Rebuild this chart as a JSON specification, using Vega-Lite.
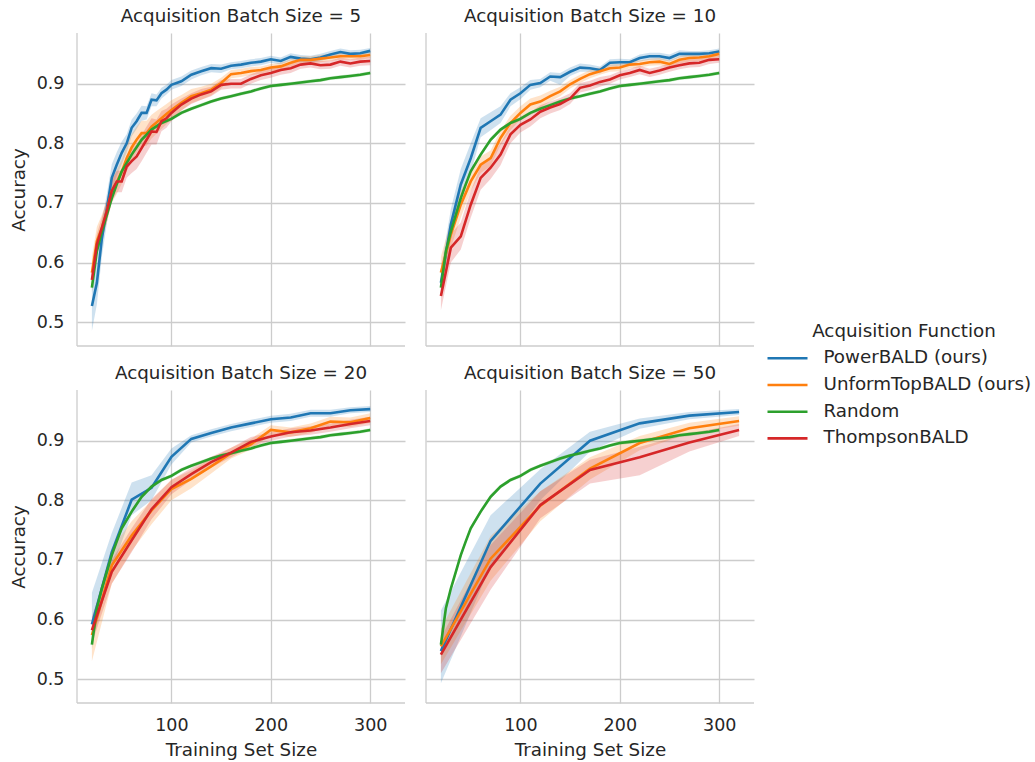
{
"$schema": "https://vega.github.io/schema/vega-lite/v6.json",
"background": "white",
"padding": {"left": 9, "top": 7, "right": 3, "bottom": 5},
"data": {"values": [
{"f":5,"m":"PowerBALD (ours)","x":20,"y":0.527,"lo":0.485,"hi":0.57},
{"f":5,"m":"PowerBALD (ours)","x":25,"y":0.566,"lo":0.53,"hi":0.6},
{"f":5,"m":"PowerBALD (ours)","x":30,"y":0.64,"lo":0.61,"hi":0.67},
{"f":5,"m":"PowerBALD (ours)","x":35,"y":0.69,"lo":0.665,"hi":0.715},
{"f":5,"m":"PowerBALD (ours)","x":40,"y":0.742,"lo":0.72,"hi":0.765},
{"f":5,"m":"PowerBALD (ours)","x":45,"y":0.764,"lo":0.745,"hi":0.785},
{"f":5,"m":"PowerBALD (ours)","x":50,"y":0.784,"lo":0.765,"hi":0.803},
{"f":5,"m":"PowerBALD (ours)","x":55,"y":0.8,"lo":0.785,"hi":0.815},
{"f":5,"m":"PowerBALD (ours)","x":60,"y":0.826,"lo":0.812,"hi":0.84},
{"f":5,"m":"PowerBALD (ours)","x":65,"y":0.837,"lo":0.824,"hi":0.85},
{"f":5,"m":"PowerBALD (ours)","x":70,"y":0.851,"lo":0.838,"hi":0.863},
{"f":5,"m":"PowerBALD (ours)","x":75,"y":0.851,"lo":0.84,"hi":0.862},
{"f":5,"m":"PowerBALD (ours)","x":80,"y":0.873,"lo":0.862,"hi":0.884},
{"f":5,"m":"PowerBALD (ours)","x":85,"y":0.872,"lo":0.862,"hi":0.882},
{"f":5,"m":"PowerBALD (ours)","x":90,"y":0.884,"lo":0.875,"hi":0.893},
{"f":5,"m":"PowerBALD (ours)","x":95,"y":0.89,"lo":0.882,"hi":0.898},
{"f":5,"m":"PowerBALD (ours)","x":100,"y":0.898,"lo":0.89,"hi":0.906},
{"f":5,"m":"PowerBALD (ours)","x":110,"y":0.904,"lo":0.896,"hi":0.912},
{"f":5,"m":"PowerBALD (ours)","x":120,"y":0.915,"lo":0.907,"hi":0.922},
{"f":5,"m":"PowerBALD (ours)","x":130,"y":0.921,"lo":0.914,"hi":0.928},
{"f":5,"m":"PowerBALD (ours)","x":140,"y":0.926,"lo":0.919,"hi":0.933},
{"f":5,"m":"PowerBALD (ours)","x":150,"y":0.925,"lo":0.918,"hi":0.932},
{"f":5,"m":"PowerBALD (ours)","x":160,"y":0.93,"lo":0.924,"hi":0.936},
{"f":5,"m":"PowerBALD (ours)","x":170,"y":0.932,"lo":0.926,"hi":0.938},
{"f":5,"m":"PowerBALD (ours)","x":180,"y":0.935,"lo":0.929,"hi":0.941},
{"f":5,"m":"PowerBALD (ours)","x":190,"y":0.937,"lo":0.931,"hi":0.943},
{"f":5,"m":"PowerBALD (ours)","x":200,"y":0.941,"lo":0.935,"hi":0.947},
{"f":5,"m":"PowerBALD (ours)","x":210,"y":0.938,"lo":0.932,"hi":0.944},
{"f":5,"m":"PowerBALD (ours)","x":220,"y":0.945,"lo":0.939,"hi":0.951},
{"f":5,"m":"PowerBALD (ours)","x":230,"y":0.942,"lo":0.936,"hi":0.948},
{"f":5,"m":"PowerBALD (ours)","x":240,"y":0.941,"lo":0.935,"hi":0.947},
{"f":5,"m":"PowerBALD (ours)","x":250,"y":0.944,"lo":0.938,"hi":0.95},
{"f":5,"m":"PowerBALD (ours)","x":260,"y":0.949,"lo":0.943,"hi":0.955},
{"f":5,"m":"PowerBALD (ours)","x":270,"y":0.953,"lo":0.947,"hi":0.959},
{"f":5,"m":"PowerBALD (ours)","x":280,"y":0.95,"lo":0.944,"hi":0.956},
{"f":5,"m":"PowerBALD (ours)","x":290,"y":0.951,"lo":0.945,"hi":0.957},
{"f":5,"m":"PowerBALD (ours)","x":300,"y":0.955,"lo":0.95,"hi":0.96},
{"f":5,"m":"UnformTopBALD (ours)","x":20,"y":0.583,"lo":0.56,"hi":0.61},
{"f":5,"m":"UnformTopBALD (ours)","x":25,"y":0.636,"lo":0.615,"hi":0.66},
{"f":5,"m":"UnformTopBALD (ours)","x":30,"y":0.658,"lo":0.638,"hi":0.68},
{"f":5,"m":"UnformTopBALD (ours)","x":35,"y":0.686,"lo":0.667,"hi":0.705},
{"f":5,"m":"UnformTopBALD (ours)","x":40,"y":0.72,"lo":0.7,"hi":0.74},
{"f":5,"m":"UnformTopBALD (ours)","x":45,"y":0.735,"lo":0.715,"hi":0.755},
{"f":5,"m":"UnformTopBALD (ours)","x":50,"y":0.752,"lo":0.732,"hi":0.772},
{"f":5,"m":"UnformTopBALD (ours)","x":55,"y":0.775,"lo":0.753,"hi":0.797},
{"f":5,"m":"UnformTopBALD (ours)","x":60,"y":0.793,"lo":0.77,"hi":0.815},
{"f":5,"m":"UnformTopBALD (ours)","x":65,"y":0.806,"lo":0.784,"hi":0.828},
{"f":5,"m":"UnformTopBALD (ours)","x":70,"y":0.817,"lo":0.795,"hi":0.838},
{"f":5,"m":"UnformTopBALD (ours)","x":75,"y":0.817,"lo":0.796,"hi":0.838},
{"f":5,"m":"UnformTopBALD (ours)","x":80,"y":0.828,"lo":0.808,"hi":0.848},
{"f":5,"m":"UnformTopBALD (ours)","x":85,"y":0.835,"lo":0.816,"hi":0.854},
{"f":5,"m":"UnformTopBALD (ours)","x":90,"y":0.842,"lo":0.824,"hi":0.86},
{"f":5,"m":"UnformTopBALD (ours)","x":95,"y":0.849,"lo":0.832,"hi":0.866},
{"f":5,"m":"UnformTopBALD (ours)","x":100,"y":0.856,"lo":0.84,"hi":0.872},
{"f":5,"m":"UnformTopBALD (ours)","x":110,"y":0.868,"lo":0.855,"hi":0.881},
{"f":5,"m":"UnformTopBALD (ours)","x":120,"y":0.879,"lo":0.867,"hi":0.891},
{"f":5,"m":"UnformTopBALD (ours)","x":130,"y":0.884,"lo":0.873,"hi":0.895},
{"f":5,"m":"UnformTopBALD (ours)","x":140,"y":0.89,"lo":0.88,"hi":0.9},
{"f":5,"m":"UnformTopBALD (ours)","x":150,"y":0.901,"lo":0.892,"hi":0.91},
{"f":5,"m":"UnformTopBALD (ours)","x":160,"y":0.916,"lo":0.909,"hi":0.923},
{"f":5,"m":"UnformTopBALD (ours)","x":170,"y":0.918,"lo":0.911,"hi":0.925},
{"f":5,"m":"UnformTopBALD (ours)","x":180,"y":0.921,"lo":0.914,"hi":0.928},
{"f":5,"m":"UnformTopBALD (ours)","x":190,"y":0.923,"lo":0.917,"hi":0.929},
{"f":5,"m":"UnformTopBALD (ours)","x":200,"y":0.927,"lo":0.921,"hi":0.933},
{"f":5,"m":"UnformTopBALD (ours)","x":210,"y":0.929,"lo":0.923,"hi":0.935},
{"f":5,"m":"UnformTopBALD (ours)","x":220,"y":0.935,"lo":0.929,"hi":0.941},
{"f":5,"m":"UnformTopBALD (ours)","x":230,"y":0.94,"lo":0.934,"hi":0.946},
{"f":5,"m":"UnformTopBALD (ours)","x":240,"y":0.94,"lo":0.934,"hi":0.946},
{"f":5,"m":"UnformTopBALD (ours)","x":250,"y":0.942,"lo":0.936,"hi":0.948},
{"f":5,"m":"UnformTopBALD (ours)","x":260,"y":0.944,"lo":0.938,"hi":0.95},
{"f":5,"m":"UnformTopBALD (ours)","x":270,"y":0.946,"lo":0.94,"hi":0.952},
{"f":5,"m":"UnformTopBALD (ours)","x":280,"y":0.946,"lo":0.94,"hi":0.952},
{"f":5,"m":"UnformTopBALD (ours)","x":290,"y":0.946,"lo":0.94,"hi":0.952},
{"f":5,"m":"UnformTopBALD (ours)","x":300,"y":0.948,"lo":0.943,"hi":0.953},
{"f":5,"m":"Random","x":20,"y":0.558,"lo":0.55,"hi":0.566},
{"f":5,"m":"Random","x":25,"y":0.619,"lo":0.613,"hi":0.625},
{"f":5,"m":"Random","x":30,"y":0.652,"lo":0.647,"hi":0.657},
{"f":5,"m":"Random","x":35,"y":0.68,"lo":0.675,"hi":0.685},
{"f":5,"m":"Random","x":40,"y":0.708,"lo":0.703,"hi":0.713},
{"f":5,"m":"Random","x":45,"y":0.731,"lo":0.727,"hi":0.735},
{"f":5,"m":"Random","x":50,"y":0.753,"lo":0.749,"hi":0.757},
{"f":5,"m":"Random","x":60,"y":0.781,"lo":0.777,"hi":0.785},
{"f":5,"m":"Random","x":70,"y":0.806,"lo":0.802,"hi":0.81},
{"f":5,"m":"Random","x":80,"y":0.823,"lo":0.82,"hi":0.826},
{"f":5,"m":"Random","x":90,"y":0.834,"lo":0.831,"hi":0.837},
{"f":5,"m":"Random","x":100,"y":0.841,"lo":0.838,"hi":0.844},
{"f":5,"m":"Random","x":110,"y":0.851,"lo":0.848,"hi":0.854},
{"f":5,"m":"Random","x":120,"y":0.858,"lo":0.855,"hi":0.861},
{"f":5,"m":"Random","x":130,"y":0.864,"lo":0.861,"hi":0.867},
{"f":5,"m":"Random","x":140,"y":0.87,"lo":0.867,"hi":0.873},
{"f":5,"m":"Random","x":150,"y":0.875,"lo":0.872,"hi":0.878},
{"f":5,"m":"Random","x":160,"y":0.879,"lo":0.876,"hi":0.882},
{"f":5,"m":"Random","x":170,"y":0.883,"lo":0.88,"hi":0.886},
{"f":5,"m":"Random","x":180,"y":0.887,"lo":0.884,"hi":0.89},
{"f":5,"m":"Random","x":190,"y":0.892,"lo":0.889,"hi":0.895},
{"f":5,"m":"Random","x":200,"y":0.896,"lo":0.893,"hi":0.899},
{"f":5,"m":"Random","x":210,"y":0.898,"lo":0.895,"hi":0.901},
{"f":5,"m":"Random","x":220,"y":0.9,"lo":0.897,"hi":0.903},
{"f":5,"m":"Random","x":230,"y":0.902,"lo":0.899,"hi":0.905},
{"f":5,"m":"Random","x":240,"y":0.904,"lo":0.901,"hi":0.907},
{"f":5,"m":"Random","x":250,"y":0.906,"lo":0.903,"hi":0.909},
{"f":5,"m":"Random","x":260,"y":0.909,"lo":0.906,"hi":0.912},
{"f":5,"m":"Random","x":270,"y":0.911,"lo":0.908,"hi":0.914},
{"f":5,"m":"Random","x":280,"y":0.913,"lo":0.91,"hi":0.916},
{"f":5,"m":"Random","x":290,"y":0.915,"lo":0.912,"hi":0.918},
{"f":5,"m":"Random","x":300,"y":0.918,"lo":0.915,"hi":0.921},
{"f":5,"m":"ThompsonBALD","x":20,"y":0.571,"lo":0.555,"hi":0.59},
{"f":5,"m":"ThompsonBALD","x":25,"y":0.63,"lo":0.612,"hi":0.648},
{"f":5,"m":"ThompsonBALD","x":30,"y":0.658,"lo":0.64,"hi":0.676},
{"f":5,"m":"ThompsonBALD","x":35,"y":0.686,"lo":0.668,"hi":0.704},
{"f":5,"m":"ThompsonBALD","x":40,"y":0.72,"lo":0.702,"hi":0.738},
{"f":5,"m":"ThompsonBALD","x":45,"y":0.736,"lo":0.718,"hi":0.754},
{"f":5,"m":"ThompsonBALD","x":50,"y":0.736,"lo":0.718,"hi":0.754},
{"f":5,"m":"ThompsonBALD","x":55,"y":0.761,"lo":0.742,"hi":0.78},
{"f":5,"m":"ThompsonBALD","x":60,"y":0.77,"lo":0.75,"hi":0.79},
{"f":5,"m":"ThompsonBALD","x":65,"y":0.778,"lo":0.757,"hi":0.799},
{"f":5,"m":"ThompsonBALD","x":70,"y":0.792,"lo":0.77,"hi":0.814},
{"f":5,"m":"ThompsonBALD","x":75,"y":0.806,"lo":0.784,"hi":0.828},
{"f":5,"m":"ThompsonBALD","x":80,"y":0.82,"lo":0.798,"hi":0.842},
{"f":5,"m":"ThompsonBALD","x":85,"y":0.819,"lo":0.798,"hi":0.84},
{"f":5,"m":"ThompsonBALD","x":90,"y":0.837,"lo":0.82,"hi":0.854},
{"f":5,"m":"ThompsonBALD","x":95,"y":0.842,"lo":0.826,"hi":0.858},
{"f":5,"m":"ThompsonBALD","x":100,"y":0.851,"lo":0.837,"hi":0.865},
{"f":5,"m":"ThompsonBALD","x":110,"y":0.865,"lo":0.855,"hi":0.875},
{"f":5,"m":"ThompsonBALD","x":120,"y":0.875,"lo":0.866,"hi":0.884},
{"f":5,"m":"ThompsonBALD","x":130,"y":0.882,"lo":0.873,"hi":0.891},
{"f":5,"m":"ThompsonBALD","x":140,"y":0.887,"lo":0.879,"hi":0.895},
{"f":5,"m":"ThompsonBALD","x":150,"y":0.898,"lo":0.89,"hi":0.906},
{"f":5,"m":"ThompsonBALD","x":160,"y":0.9,"lo":0.892,"hi":0.908},
{"f":5,"m":"ThompsonBALD","x":170,"y":0.9,"lo":0.892,"hi":0.908},
{"f":5,"m":"ThompsonBALD","x":180,"y":0.908,"lo":0.9,"hi":0.916},
{"f":5,"m":"ThompsonBALD","x":190,"y":0.914,"lo":0.906,"hi":0.922},
{"f":5,"m":"ThompsonBALD","x":200,"y":0.918,"lo":0.91,"hi":0.926},
{"f":5,"m":"ThompsonBALD","x":210,"y":0.923,"lo":0.915,"hi":0.931},
{"f":5,"m":"ThompsonBALD","x":220,"y":0.926,"lo":0.918,"hi":0.934},
{"f":5,"m":"ThompsonBALD","x":230,"y":0.932,"lo":0.925,"hi":0.939},
{"f":5,"m":"ThompsonBALD","x":240,"y":0.934,"lo":0.927,"hi":0.941},
{"f":5,"m":"ThompsonBALD","x":250,"y":0.931,"lo":0.924,"hi":0.938},
{"f":5,"m":"ThompsonBALD","x":260,"y":0.932,"lo":0.925,"hi":0.939},
{"f":5,"m":"ThompsonBALD","x":270,"y":0.937,"lo":0.93,"hi":0.944},
{"f":5,"m":"ThompsonBALD","x":280,"y":0.934,"lo":0.927,"hi":0.941},
{"f":5,"m":"ThompsonBALD","x":290,"y":0.937,"lo":0.93,"hi":0.944},
{"f":5,"m":"ThompsonBALD","x":300,"y":0.938,"lo":0.931,"hi":0.945},
{"f":10,"m":"PowerBALD (ours)","x":20,"y":0.566,"lo":0.545,"hi":0.59},
{"f":10,"m":"PowerBALD (ours)","x":30,"y":0.664,"lo":0.64,"hi":0.69},
{"f":10,"m":"PowerBALD (ours)","x":40,"y":0.731,"lo":0.705,"hi":0.757},
{"f":10,"m":"PowerBALD (ours)","x":50,"y":0.775,"lo":0.75,"hi":0.8},
{"f":10,"m":"PowerBALD (ours)","x":60,"y":0.826,"lo":0.81,"hi":0.842},
{"f":10,"m":"PowerBALD (ours)","x":70,"y":0.837,"lo":0.822,"hi":0.852},
{"f":10,"m":"PowerBALD (ours)","x":80,"y":0.848,"lo":0.834,"hi":0.862},
{"f":10,"m":"PowerBALD (ours)","x":90,"y":0.873,"lo":0.862,"hi":0.884},
{"f":10,"m":"PowerBALD (ours)","x":100,"y":0.884,"lo":0.874,"hi":0.894},
{"f":10,"m":"PowerBALD (ours)","x":110,"y":0.898,"lo":0.89,"hi":0.906},
{"f":10,"m":"PowerBALD (ours)","x":120,"y":0.901,"lo":0.894,"hi":0.908},
{"f":10,"m":"PowerBALD (ours)","x":130,"y":0.912,"lo":0.905,"hi":0.919},
{"f":10,"m":"PowerBALD (ours)","x":140,"y":0.911,"lo":0.898,"hi":0.918},
{"f":10,"m":"PowerBALD (ours)","x":150,"y":0.92,"lo":0.913,"hi":0.927},
{"f":10,"m":"PowerBALD (ours)","x":160,"y":0.927,"lo":0.92,"hi":0.934},
{"f":10,"m":"PowerBALD (ours)","x":170,"y":0.926,"lo":0.92,"hi":0.932},
{"f":10,"m":"PowerBALD (ours)","x":180,"y":0.923,"lo":0.917,"hi":0.929},
{"f":10,"m":"PowerBALD (ours)","x":190,"y":0.935,"lo":0.929,"hi":0.941},
{"f":10,"m":"PowerBALD (ours)","x":200,"y":0.936,"lo":0.93,"hi":0.942},
{"f":10,"m":"PowerBALD (ours)","x":210,"y":0.936,"lo":0.931,"hi":0.941},
{"f":10,"m":"PowerBALD (ours)","x":220,"y":0.943,"lo":0.937,"hi":0.949},
{"f":10,"m":"PowerBALD (ours)","x":230,"y":0.946,"lo":0.94,"hi":0.952},
{"f":10,"m":"PowerBALD (ours)","x":240,"y":0.946,"lo":0.94,"hi":0.952},
{"f":10,"m":"PowerBALD (ours)","x":250,"y":0.943,"lo":0.937,"hi":0.949},
{"f":10,"m":"PowerBALD (ours)","x":260,"y":0.95,"lo":0.944,"hi":0.956},
{"f":10,"m":"PowerBALD (ours)","x":270,"y":0.95,"lo":0.945,"hi":0.955},
{"f":10,"m":"PowerBALD (ours)","x":280,"y":0.95,"lo":0.945,"hi":0.955},
{"f":10,"m":"PowerBALD (ours)","x":290,"y":0.951,"lo":0.946,"hi":0.956},
{"f":10,"m":"PowerBALD (ours)","x":300,"y":0.954,"lo":0.949,"hi":0.959},
{"f":10,"m":"UnformTopBALD (ours)","x":20,"y":0.583,"lo":0.56,"hi":0.61},
{"f":10,"m":"UnformTopBALD (ours)","x":30,"y":0.647,"lo":0.625,"hi":0.67},
{"f":10,"m":"UnformTopBALD (ours)","x":40,"y":0.697,"lo":0.675,"hi":0.72},
{"f":10,"m":"UnformTopBALD (ours)","x":50,"y":0.736,"lo":0.72,"hi":0.752},
{"f":10,"m":"UnformTopBALD (ours)","x":60,"y":0.764,"lo":0.75,"hi":0.778},
{"f":10,"m":"UnformTopBALD (ours)","x":70,"y":0.775,"lo":0.762,"hi":0.788},
{"f":10,"m":"UnformTopBALD (ours)","x":80,"y":0.809,"lo":0.797,"hi":0.821},
{"f":10,"m":"UnformTopBALD (ours)","x":90,"y":0.834,"lo":0.822,"hi":0.846},
{"f":10,"m":"UnformTopBALD (ours)","x":100,"y":0.851,"lo":0.84,"hi":0.862},
{"f":10,"m":"UnformTopBALD (ours)","x":110,"y":0.865,"lo":0.855,"hi":0.875},
{"f":10,"m":"UnformTopBALD (ours)","x":120,"y":0.87,"lo":0.86,"hi":0.88},
{"f":10,"m":"UnformTopBALD (ours)","x":130,"y":0.879,"lo":0.87,"hi":0.888},
{"f":10,"m":"UnformTopBALD (ours)","x":140,"y":0.887,"lo":0.879,"hi":0.895},
{"f":10,"m":"UnformTopBALD (ours)","x":150,"y":0.899,"lo":0.892,"hi":0.906},
{"f":10,"m":"UnformTopBALD (ours)","x":160,"y":0.908,"lo":0.901,"hi":0.915},
{"f":10,"m":"UnformTopBALD (ours)","x":170,"y":0.916,"lo":0.909,"hi":0.923},
{"f":10,"m":"UnformTopBALD (ours)","x":180,"y":0.921,"lo":0.915,"hi":0.927},
{"f":10,"m":"UnformTopBALD (ours)","x":190,"y":0.926,"lo":0.92,"hi":0.932},
{"f":10,"m":"UnformTopBALD (ours)","x":200,"y":0.927,"lo":0.921,"hi":0.933},
{"f":10,"m":"UnformTopBALD (ours)","x":210,"y":0.932,"lo":0.926,"hi":0.938},
{"f":10,"m":"UnformTopBALD (ours)","x":220,"y":0.933,"lo":0.927,"hi":0.939},
{"f":10,"m":"UnformTopBALD (ours)","x":230,"y":0.936,"lo":0.93,"hi":0.942},
{"f":10,"m":"UnformTopBALD (ours)","x":240,"y":0.937,"lo":0.931,"hi":0.943},
{"f":10,"m":"UnformTopBALD (ours)","x":250,"y":0.933,"lo":0.927,"hi":0.939},
{"f":10,"m":"UnformTopBALD (ours)","x":260,"y":0.94,"lo":0.934,"hi":0.946},
{"f":10,"m":"UnformTopBALD (ours)","x":270,"y":0.943,"lo":0.937,"hi":0.949},
{"f":10,"m":"UnformTopBALD (ours)","x":280,"y":0.944,"lo":0.938,"hi":0.95},
{"f":10,"m":"UnformTopBALD (ours)","x":290,"y":0.946,"lo":0.94,"hi":0.952},
{"f":10,"m":"UnformTopBALD (ours)","x":300,"y":0.95,"lo":0.944,"hi":0.956},
{"f":10,"m":"Random","x":20,"y":0.558,"lo":0.55,"hi":0.566},
{"f":10,"m":"Random","x":25,"y":0.619,"lo":0.613,"hi":0.625},
{"f":10,"m":"Random","x":30,"y":0.652,"lo":0.647,"hi":0.657},
{"f":10,"m":"Random","x":35,"y":0.68,"lo":0.675,"hi":0.685},
{"f":10,"m":"Random","x":40,"y":0.708,"lo":0.703,"hi":0.713},
{"f":10,"m":"Random","x":45,"y":0.731,"lo":0.727,"hi":0.735},
{"f":10,"m":"Random","x":50,"y":0.753,"lo":0.749,"hi":0.757},
{"f":10,"m":"Random","x":60,"y":0.781,"lo":0.777,"hi":0.785},
{"f":10,"m":"Random","x":70,"y":0.806,"lo":0.802,"hi":0.81},
{"f":10,"m":"Random","x":80,"y":0.823,"lo":0.82,"hi":0.826},
{"f":10,"m":"Random","x":90,"y":0.834,"lo":0.831,"hi":0.837},
{"f":10,"m":"Random","x":100,"y":0.841,"lo":0.838,"hi":0.844},
{"f":10,"m":"Random","x":110,"y":0.851,"lo":0.848,"hi":0.854},
{"f":10,"m":"Random","x":120,"y":0.858,"lo":0.855,"hi":0.861},
{"f":10,"m":"Random","x":130,"y":0.864,"lo":0.861,"hi":0.867},
{"f":10,"m":"Random","x":140,"y":0.87,"lo":0.867,"hi":0.873},
{"f":10,"m":"Random","x":150,"y":0.875,"lo":0.872,"hi":0.878},
{"f":10,"m":"Random","x":160,"y":0.879,"lo":0.876,"hi":0.882},
{"f":10,"m":"Random","x":170,"y":0.883,"lo":0.88,"hi":0.886},
{"f":10,"m":"Random","x":180,"y":0.887,"lo":0.884,"hi":0.89},
{"f":10,"m":"Random","x":190,"y":0.892,"lo":0.889,"hi":0.895},
{"f":10,"m":"Random","x":200,"y":0.896,"lo":0.893,"hi":0.899},
{"f":10,"m":"Random","x":210,"y":0.898,"lo":0.895,"hi":0.901},
{"f":10,"m":"Random","x":220,"y":0.9,"lo":0.897,"hi":0.903},
{"f":10,"m":"Random","x":230,"y":0.902,"lo":0.899,"hi":0.905},
{"f":10,"m":"Random","x":240,"y":0.904,"lo":0.901,"hi":0.907},
{"f":10,"m":"Random","x":250,"y":0.906,"lo":0.903,"hi":0.909},
{"f":10,"m":"Random","x":260,"y":0.909,"lo":0.906,"hi":0.912},
{"f":10,"m":"Random","x":270,"y":0.911,"lo":0.908,"hi":0.914},
{"f":10,"m":"Random","x":280,"y":0.913,"lo":0.91,"hi":0.916},
{"f":10,"m":"Random","x":290,"y":0.915,"lo":0.912,"hi":0.918},
{"f":10,"m":"Random","x":300,"y":0.918,"lo":0.915,"hi":0.921},
{"f":10,"m":"ThompsonBALD","x":20,"y":0.544,"lo":0.52,"hi":0.57},
{"f":10,"m":"ThompsonBALD","x":30,"y":0.625,"lo":0.6,"hi":0.648},
{"f":10,"m":"ThompsonBALD","x":40,"y":0.644,"lo":0.622,"hi":0.667},
{"f":10,"m":"ThompsonBALD","x":50,"y":0.697,"lo":0.675,"hi":0.72},
{"f":10,"m":"ThompsonBALD","x":60,"y":0.742,"lo":0.722,"hi":0.762},
{"f":10,"m":"ThompsonBALD","x":70,"y":0.759,"lo":0.74,"hi":0.778},
{"f":10,"m":"ThompsonBALD","x":80,"y":0.781,"lo":0.763,"hi":0.8},
{"f":10,"m":"ThompsonBALD","x":90,"y":0.815,"lo":0.8,"hi":0.83},
{"f":10,"m":"ThompsonBALD","x":100,"y":0.831,"lo":0.818,"hi":0.844},
{"f":10,"m":"ThompsonBALD","x":110,"y":0.84,"lo":0.828,"hi":0.852},
{"f":10,"m":"ThompsonBALD","x":120,"y":0.853,"lo":0.842,"hi":0.864},
{"f":10,"m":"ThompsonBALD","x":130,"y":0.86,"lo":0.85,"hi":0.87},
{"f":10,"m":"ThompsonBALD","x":140,"y":0.866,"lo":0.856,"hi":0.876},
{"f":10,"m":"ThompsonBALD","x":150,"y":0.875,"lo":0.866,"hi":0.884},
{"f":10,"m":"ThompsonBALD","x":160,"y":0.893,"lo":0.885,"hi":0.901},
{"f":10,"m":"ThompsonBALD","x":170,"y":0.897,"lo":0.889,"hi":0.905},
{"f":10,"m":"ThompsonBALD","x":180,"y":0.903,"lo":0.895,"hi":0.911},
{"f":10,"m":"ThompsonBALD","x":190,"y":0.907,"lo":0.9,"hi":0.914},
{"f":10,"m":"ThompsonBALD","x":200,"y":0.914,"lo":0.907,"hi":0.921},
{"f":10,"m":"ThompsonBALD","x":210,"y":0.918,"lo":0.911,"hi":0.925},
{"f":10,"m":"ThompsonBALD","x":220,"y":0.923,"lo":0.916,"hi":0.93},
{"f":10,"m":"ThompsonBALD","x":230,"y":0.918,"lo":0.911,"hi":0.925},
{"f":10,"m":"ThompsonBALD","x":240,"y":0.922,"lo":0.915,"hi":0.929},
{"f":10,"m":"ThompsonBALD","x":250,"y":0.927,"lo":0.92,"hi":0.934},
{"f":10,"m":"ThompsonBALD","x":260,"y":0.931,"lo":0.924,"hi":0.938},
{"f":10,"m":"ThompsonBALD","x":270,"y":0.934,"lo":0.927,"hi":0.941},
{"f":10,"m":"ThompsonBALD","x":280,"y":0.935,"lo":0.928,"hi":0.942},
{"f":10,"m":"ThompsonBALD","x":290,"y":0.94,"lo":0.933,"hi":0.947},
{"f":10,"m":"ThompsonBALD","x":300,"y":0.941,"lo":0.935,"hi":0.947},
{"f":20,"m":"PowerBALD (ours)","x":20,"y":0.592,"lo":0.56,"hi":0.645},
{"f":20,"m":"PowerBALD (ours)","x":40,"y":0.713,"lo":0.685,"hi":0.745},
{"f":20,"m":"PowerBALD (ours)","x":60,"y":0.801,"lo":0.775,"hi":0.83},
{"f":20,"m":"PowerBALD (ours)","x":80,"y":0.821,"lo":0.8,"hi":0.842},
{"f":20,"m":"PowerBALD (ours)","x":100,"y":0.873,"lo":0.86,"hi":0.887},
{"f":20,"m":"PowerBALD (ours)","x":120,"y":0.903,"lo":0.897,"hi":0.909},
{"f":20,"m":"PowerBALD (ours)","x":140,"y":0.913,"lo":0.907,"hi":0.919},
{"f":20,"m":"PowerBALD (ours)","x":160,"y":0.922,"lo":0.916,"hi":0.928},
{"f":20,"m":"PowerBALD (ours)","x":180,"y":0.929,"lo":0.923,"hi":0.935},
{"f":20,"m":"PowerBALD (ours)","x":200,"y":0.936,"lo":0.93,"hi":0.942},
{"f":20,"m":"PowerBALD (ours)","x":220,"y":0.939,"lo":0.933,"hi":0.945},
{"f":20,"m":"PowerBALD (ours)","x":240,"y":0.946,"lo":0.94,"hi":0.952},
{"f":20,"m":"PowerBALD (ours)","x":260,"y":0.946,"lo":0.94,"hi":0.952},
{"f":20,"m":"PowerBALD (ours)","x":280,"y":0.951,"lo":0.946,"hi":0.956},
{"f":20,"m":"PowerBALD (ours)","x":300,"y":0.953,"lo":0.948,"hi":0.958},
{"f":20,"m":"UnformTopBALD (ours)","x":20,"y":0.574,"lo":0.53,"hi":0.6},
{"f":20,"m":"UnformTopBALD (ours)","x":40,"y":0.691,"lo":0.66,"hi":0.72},
{"f":20,"m":"UnformTopBALD (ours)","x":60,"y":0.741,"lo":0.715,"hi":0.765},
{"f":20,"m":"UnformTopBALD (ours)","x":80,"y":0.783,"lo":0.76,"hi":0.8},
{"f":20,"m":"UnformTopBALD (ours)","x":100,"y":0.819,"lo":0.8,"hi":0.835},
{"f":20,"m":"UnformTopBALD (ours)","x":120,"y":0.836,"lo":0.82,"hi":0.85},
{"f":20,"m":"UnformTopBALD (ours)","x":140,"y":0.857,"lo":0.845,"hi":0.87},
{"f":20,"m":"UnformTopBALD (ours)","x":160,"y":0.879,"lo":0.87,"hi":0.888},
{"f":20,"m":"UnformTopBALD (ours)","x":180,"y":0.894,"lo":0.885,"hi":0.903},
{"f":20,"m":"UnformTopBALD (ours)","x":200,"y":0.918,"lo":0.91,"hi":0.926},
{"f":20,"m":"UnformTopBALD (ours)","x":220,"y":0.914,"lo":0.906,"hi":0.922},
{"f":20,"m":"UnformTopBALD (ours)","x":240,"y":0.921,"lo":0.913,"hi":0.929},
{"f":20,"m":"UnformTopBALD (ours)","x":260,"y":0.932,"lo":0.924,"hi":0.94},
{"f":20,"m":"UnformTopBALD (ours)","x":280,"y":0.931,"lo":0.923,"hi":0.939},
{"f":20,"m":"UnformTopBALD (ours)","x":300,"y":0.938,"lo":0.93,"hi":0.946},
{"f":20,"m":"Random","x":20,"y":0.558,"lo":0.55,"hi":0.566},
{"f":20,"m":"Random","x":25,"y":0.619,"lo":0.613,"hi":0.625},
{"f":20,"m":"Random","x":30,"y":0.652,"lo":0.647,"hi":0.657},
{"f":20,"m":"Random","x":35,"y":0.68,"lo":0.675,"hi":0.685},
{"f":20,"m":"Random","x":40,"y":0.708,"lo":0.703,"hi":0.713},
{"f":20,"m":"Random","x":45,"y":0.731,"lo":0.727,"hi":0.735},
{"f":20,"m":"Random","x":50,"y":0.753,"lo":0.749,"hi":0.757},
{"f":20,"m":"Random","x":60,"y":0.781,"lo":0.777,"hi":0.785},
{"f":20,"m":"Random","x":70,"y":0.806,"lo":0.802,"hi":0.81},
{"f":20,"m":"Random","x":80,"y":0.823,"lo":0.82,"hi":0.826},
{"f":20,"m":"Random","x":90,"y":0.834,"lo":0.831,"hi":0.837},
{"f":20,"m":"Random","x":100,"y":0.841,"lo":0.838,"hi":0.844},
{"f":20,"m":"Random","x":110,"y":0.851,"lo":0.848,"hi":0.854},
{"f":20,"m":"Random","x":120,"y":0.858,"lo":0.855,"hi":0.861},
{"f":20,"m":"Random","x":130,"y":0.864,"lo":0.861,"hi":0.867},
{"f":20,"m":"Random","x":140,"y":0.87,"lo":0.867,"hi":0.873},
{"f":20,"m":"Random","x":150,"y":0.875,"lo":0.872,"hi":0.878},
{"f":20,"m":"Random","x":160,"y":0.879,"lo":0.876,"hi":0.882},
{"f":20,"m":"Random","x":170,"y":0.883,"lo":0.88,"hi":0.886},
{"f":20,"m":"Random","x":180,"y":0.887,"lo":0.884,"hi":0.89},
{"f":20,"m":"Random","x":190,"y":0.892,"lo":0.889,"hi":0.895},
{"f":20,"m":"Random","x":200,"y":0.896,"lo":0.893,"hi":0.899},
{"f":20,"m":"Random","x":210,"y":0.898,"lo":0.895,"hi":0.901},
{"f":20,"m":"Random","x":220,"y":0.9,"lo":0.897,"hi":0.903},
{"f":20,"m":"Random","x":230,"y":0.902,"lo":0.899,"hi":0.905},
{"f":20,"m":"Random","x":240,"y":0.904,"lo":0.901,"hi":0.907},
{"f":20,"m":"Random","x":250,"y":0.906,"lo":0.903,"hi":0.909},
{"f":20,"m":"Random","x":260,"y":0.909,"lo":0.906,"hi":0.912},
{"f":20,"m":"Random","x":270,"y":0.911,"lo":0.908,"hi":0.914},
{"f":20,"m":"Random","x":280,"y":0.913,"lo":0.91,"hi":0.916},
{"f":20,"m":"Random","x":290,"y":0.915,"lo":0.912,"hi":0.918},
{"f":20,"m":"Random","x":300,"y":0.918,"lo":0.915,"hi":0.921},
{"f":20,"m":"ThompsonBALD","x":20,"y":0.582,"lo":0.56,"hi":0.605},
{"f":20,"m":"ThompsonBALD","x":40,"y":0.68,"lo":0.66,"hi":0.7},
{"f":20,"m":"ThompsonBALD","x":60,"y":0.733,"lo":0.713,"hi":0.753},
{"f":20,"m":"ThompsonBALD","x":80,"y":0.785,"lo":0.768,"hi":0.802},
{"f":20,"m":"ThompsonBALD","x":100,"y":0.822,"lo":0.81,"hi":0.834},
{"f":20,"m":"ThompsonBALD","x":120,"y":0.844,"lo":0.834,"hi":0.854},
{"f":20,"m":"ThompsonBALD","x":140,"y":0.864,"lo":0.855,"hi":0.873},
{"f":20,"m":"ThompsonBALD","x":160,"y":0.88,"lo":0.872,"hi":0.888},
{"f":20,"m":"ThompsonBALD","x":180,"y":0.898,"lo":0.89,"hi":0.906},
{"f":20,"m":"ThompsonBALD","x":200,"y":0.907,"lo":0.9,"hi":0.914},
{"f":20,"m":"ThompsonBALD","x":220,"y":0.914,"lo":0.907,"hi":0.921},
{"f":20,"m":"ThompsonBALD","x":240,"y":0.917,"lo":0.91,"hi":0.924},
{"f":20,"m":"ThompsonBALD","x":260,"y":0.922,"lo":0.915,"hi":0.929},
{"f":20,"m":"ThompsonBALD","x":280,"y":0.928,"lo":0.921,"hi":0.935},
{"f":20,"m":"ThompsonBALD","x":300,"y":0.933,"lo":0.926,"hi":0.94},
{"f":50,"m":"PowerBALD (ours)","x":20,"y":0.547,"lo":0.493,"hi":0.615},
{"f":50,"m":"PowerBALD (ours)","x":70,"y":0.732,"lo":0.69,"hi":0.775},
{"f":50,"m":"PowerBALD (ours)","x":120,"y":0.828,"lo":0.8,"hi":0.852},
{"f":50,"m":"PowerBALD (ours)","x":170,"y":0.9,"lo":0.882,"hi":0.915},
{"f":50,"m":"PowerBALD (ours)","x":220,"y":0.929,"lo":0.92,"hi":0.937},
{"f":50,"m":"PowerBALD (ours)","x":270,"y":0.942,"lo":0.936,"hi":0.948},
{"f":50,"m":"PowerBALD (ours)","x":320,"y":0.948,"lo":0.943,"hi":0.953},
{"f":50,"m":"UnformTopBALD (ours)","x":20,"y":0.555,"lo":0.525,"hi":0.585},
{"f":50,"m":"UnformTopBALD (ours)","x":70,"y":0.702,"lo":0.665,"hi":0.74},
{"f":50,"m":"UnformTopBALD (ours)","x":120,"y":0.791,"lo":0.765,"hi":0.815},
{"f":50,"m":"UnformTopBALD (ours)","x":170,"y":0.853,"lo":0.835,"hi":0.872},
{"f":50,"m":"UnformTopBALD (ours)","x":220,"y":0.896,"lo":0.884,"hi":0.908},
{"f":50,"m":"UnformTopBALD (ours)","x":270,"y":0.921,"lo":0.912,"hi":0.93},
{"f":50,"m":"UnformTopBALD (ours)","x":320,"y":0.933,"lo":0.925,"hi":0.941},
{"f":50,"m":"Random","x":20,"y":0.558,"lo":0.55,"hi":0.566},
{"f":50,"m":"Random","x":25,"y":0.619,"lo":0.613,"hi":0.625},
{"f":50,"m":"Random","x":30,"y":0.652,"lo":0.647,"hi":0.657},
{"f":50,"m":"Random","x":35,"y":0.68,"lo":0.675,"hi":0.685},
{"f":50,"m":"Random","x":40,"y":0.708,"lo":0.703,"hi":0.713},
{"f":50,"m":"Random","x":45,"y":0.731,"lo":0.727,"hi":0.735},
{"f":50,"m":"Random","x":50,"y":0.753,"lo":0.749,"hi":0.757},
{"f":50,"m":"Random","x":60,"y":0.781,"lo":0.777,"hi":0.785},
{"f":50,"m":"Random","x":70,"y":0.806,"lo":0.802,"hi":0.81},
{"f":50,"m":"Random","x":80,"y":0.823,"lo":0.82,"hi":0.826},
{"f":50,"m":"Random","x":90,"y":0.834,"lo":0.831,"hi":0.837},
{"f":50,"m":"Random","x":100,"y":0.841,"lo":0.838,"hi":0.844},
{"f":50,"m":"Random","x":110,"y":0.851,"lo":0.848,"hi":0.854},
{"f":50,"m":"Random","x":120,"y":0.858,"lo":0.855,"hi":0.861},
{"f":50,"m":"Random","x":130,"y":0.864,"lo":0.861,"hi":0.867},
{"f":50,"m":"Random","x":140,"y":0.87,"lo":0.867,"hi":0.873},
{"f":50,"m":"Random","x":150,"y":0.875,"lo":0.872,"hi":0.878},
{"f":50,"m":"Random","x":160,"y":0.879,"lo":0.876,"hi":0.882},
{"f":50,"m":"Random","x":170,"y":0.883,"lo":0.88,"hi":0.886},
{"f":50,"m":"Random","x":180,"y":0.887,"lo":0.884,"hi":0.89},
{"f":50,"m":"Random","x":190,"y":0.892,"lo":0.889,"hi":0.895},
{"f":50,"m":"Random","x":200,"y":0.896,"lo":0.893,"hi":0.899},
{"f":50,"m":"Random","x":210,"y":0.898,"lo":0.895,"hi":0.901},
{"f":50,"m":"Random","x":220,"y":0.9,"lo":0.897,"hi":0.903},
{"f":50,"m":"Random","x":230,"y":0.902,"lo":0.899,"hi":0.905},
{"f":50,"m":"Random","x":240,"y":0.904,"lo":0.901,"hi":0.907},
{"f":50,"m":"Random","x":250,"y":0.906,"lo":0.903,"hi":0.909},
{"f":50,"m":"Random","x":260,"y":0.909,"lo":0.906,"hi":0.912},
{"f":50,"m":"Random","x":270,"y":0.911,"lo":0.908,"hi":0.914},
{"f":50,"m":"Random","x":280,"y":0.913,"lo":0.91,"hi":0.916},
{"f":50,"m":"Random","x":290,"y":0.915,"lo":0.912,"hi":0.918},
{"f":50,"m":"Random","x":300,"y":0.918,"lo":0.915,"hi":0.921},
{"f":50,"m":"ThompsonBALD","x":20,"y":0.541,"lo":0.51,"hi":0.57},
{"f":50,"m":"ThompsonBALD","x":70,"y":0.688,"lo":0.65,"hi":0.725},
{"f":50,"m":"ThompsonBALD","x":120,"y":0.792,"lo":0.77,"hi":0.815},
{"f":50,"m":"ThompsonBALD","x":170,"y":0.851,"lo":0.828,"hi":0.868},
{"f":50,"m":"ThompsonBALD","x":220,"y":0.872,"lo":0.842,"hi":0.89},
{"f":50,"m":"ThompsonBALD","x":270,"y":0.897,"lo":0.882,"hi":0.912},
{"f":50,"m":"ThompsonBALD","x":320,"y":0.918,"lo":0.908,"hi":0.928}
]},
"facet": {"field": "f", "type": "ordinal", "title": null,
  "header": {"labelExpr": "'Acquisition Batch Size = ' + datum.value", "labelFontSize": 18.3, "labelColor": "#262626", "labelFont": "DejaVu Sans", "labelPadding": 6}},
"columns": 2,
"spacing": {"column": 19, "row": 17},
"spec": {
  "width": 328, "height": 313,
  "layer": [
    {"mark": {"type": "area", "fillOpacity": 0.22},
     "encoding": {
       "x": {"field": "x", "type": "quantitative", "scale": {"domain": [5, 335], "nice": false, "zero": false}, "axis": {"values": [100, 200, 300], "title": "Training Set Size"}},
       "y": {"field": "lo", "type": "quantitative", "scale": {"domain": [0.46, 0.985], "nice": false, "zero": false}, "axis": {"values": [0.5, 0.6, 0.7, 0.8, 0.9], "format": ".1f", "title": "Accuracy"}},
       "y2": {"field": "hi"},
       "color": {"field": "m", "type": "nominal",
         "scale": {"domain": ["PowerBALD (ours)", "UnformTopBALD (ours)", "Random", "ThompsonBALD"], "range": ["#1f77b4", "#ff7f0e", "#2ca02c", "#d62728"]}}
     }},
    {"mark": {"type": "line", "strokeWidth": 2.6},
     "encoding": {
       "x": {"field": "x", "type": "quantitative"},
       "y": {"field": "y", "type": "quantitative", "axis": {"values": [0.5, 0.6, 0.7, 0.8, 0.9], "format": ".1f", "title": "Accuracy"}},
       "color": {"field": "m", "type": "nominal",
         "legend": {"title": "Acquisition Function", "orient": "none", "legendX": 699, "legendY": 290, "symbolType": "M-2,0H2", "symbolSize": 400, "symbolStrokeWidth": 2.6, "symbolOpacity": 1, "labelFontSize": 18.3, "titleFontSize": 18.3, "titleFontWeight": "normal", "titleAnchor": "middle", "labelColor": "#262626", "titleColor": "#262626", "labelFont": "DejaVu Sans", "titleFont": "DejaVu Sans", "labelOffset": 24.5, "rowPadding": 6.7, "titlePadding": 5.5, "labelLimit": 400, "titleLimit": 400,
           "encode": {"symbols": {"update": {"opacity": {"value": 1}, "strokeOpacity": {"value": 1}, "fill": {"value": "transparent"}}}}}}
     }},
    {"mark": {"type": "rule", "color": "#cccccc", "strokeWidth": 1.3},
     "transform": [{"aggregate": [{"op": "count", "as": "n"}], "groupby": ["f"]}],
     "encoding": {"x": {"datum": 5, "type": "quantitative"}}},
    {"mark": {"type": "rule", "color": "#cccccc", "strokeWidth": 1.3},
     "transform": [{"aggregate": [{"op": "count", "as": "n"}], "groupby": ["f"]}],
     "encoding": {"y": {"datum": 0.46, "type": "quantitative"}}}
  ]
},
"config": {
  "font": "DejaVu Sans",
  "view": {"stroke": null},
  "axis": {"gridColor": "#cccccc", "gridWidth": 1.3, "domain": false, "ticks": false, "labelFontSize": 17.5, "labelColor": "#262626", "titleFontSize": 18.3, "titleColor": "#262626", "titleFontWeight": "normal", "labelPadding": 12, "titlePadding": 8, "labelFont": "DejaVu Sans", "titleFont": "DejaVu Sans"}
}
}
